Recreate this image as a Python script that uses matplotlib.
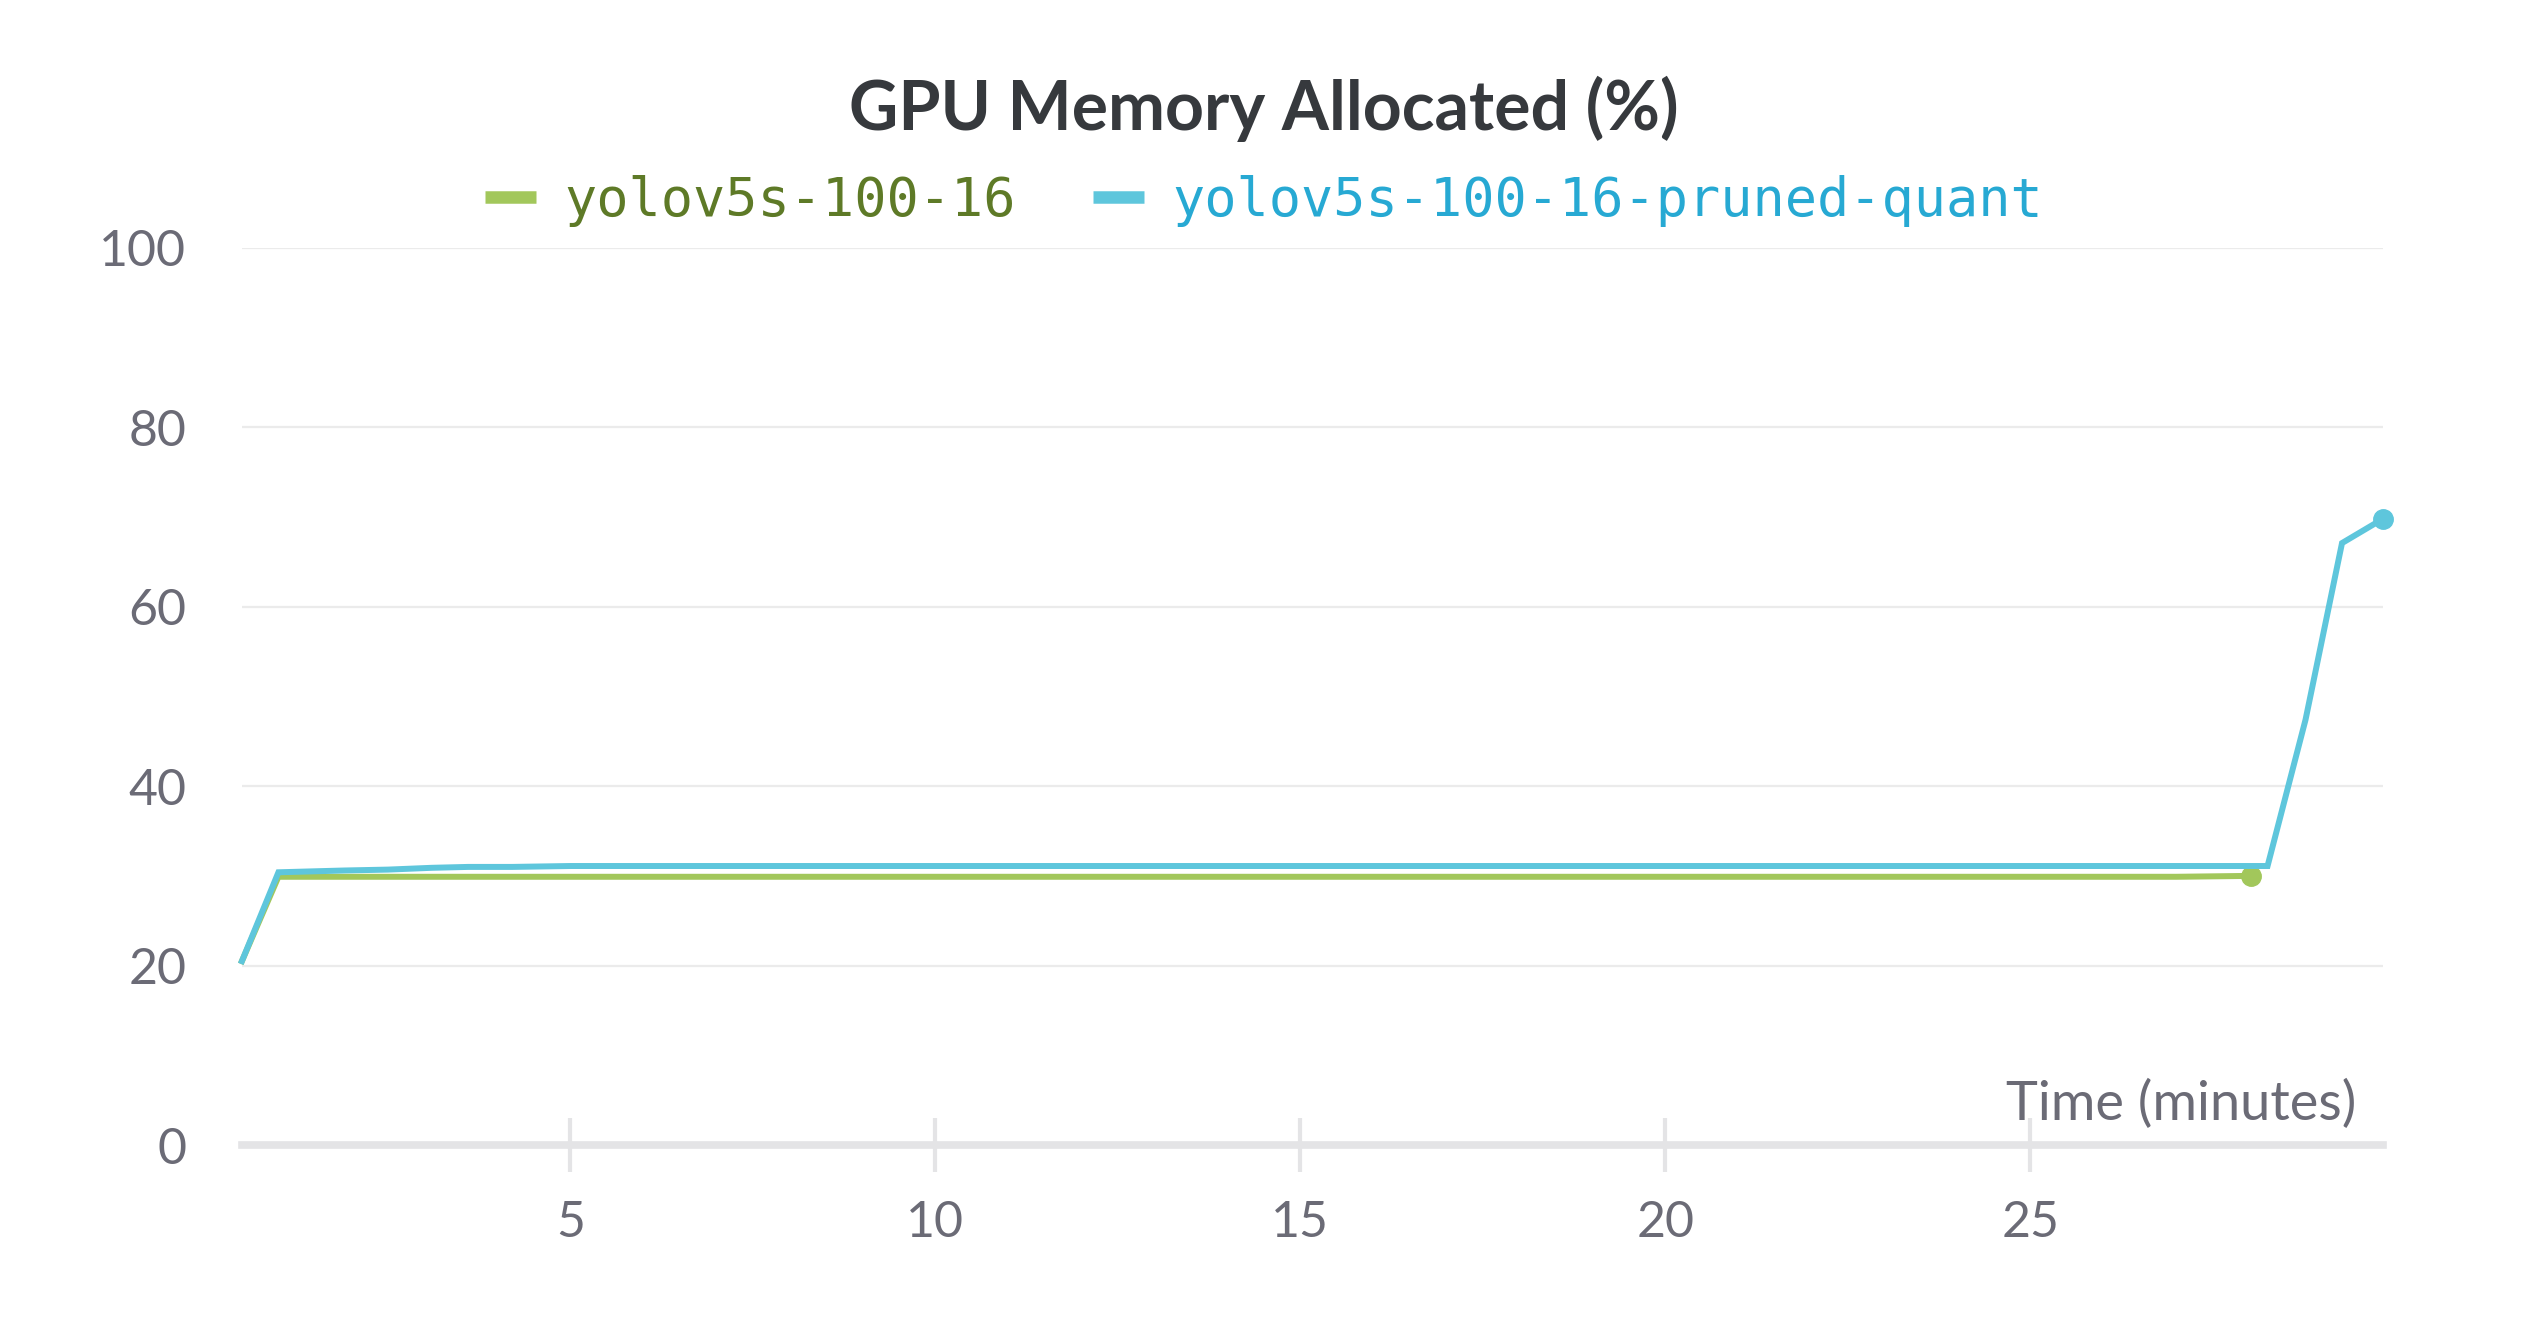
import matplotlib
matplotlib.use("Agg")
import matplotlib.pyplot as plt

# data
t_base = [0.5, 1.0, 27.0, 28.02]
mem_base = [20.5, 29.9, 29.9, 30.0]

t_pq = [0.5, 1.0, 1.9, 2.5, 3.1, 3.6, 4.2, 5.0, 28.25, 28.77, 29.27, 29.83]
mem_pq = [20.5, 30.4, 30.6, 30.7, 30.9, 31.0, 31.0, 31.1, 31.1, 47.4, 67.1, 69.8]

names = ["yolov5s-100-16", "yolov5s-100-16-pruned-quant"]
line_colors = ["#a2c75b", "#5ec6dc"]
text_colors = ["#5e7a27", "#27a9d3"]
x_ticks = [5, 10, 15, 20, 25]
y_ticks = [0, 20, 40, 60, 80, 100]

grey = "#6b6b76"
plt.rcParams['font.family'] = ['Lato', 'DejaVu Sans']

fig = plt.figure(figsize=(25.28, 13.28), dpi=100)
ax = fig.add_axes([0.0957, 0.1378, 0.8469, 0.6755])

# lignes
ax.plot(t_base, mem_base, color=line_colors[0], lw=4.3, solid_joinstyle='miter', clip_on=False, zorder=3)
ax.plot(t_base[-1], mem_base[-1], 'o', color=line_colors[0], ms=14, clip_on=False, zorder=3)
ax.plot(t_pq, mem_pq, color=line_colors[1], lw=4.3, solid_joinstyle='miter', clip_on=False, zorder=4)
ax.plot(t_pq[-1], mem_pq[-1], 'o', color=line_colors[1], ms=14, clip_on=False, zorder=4)

ax.set_xlim(0.5, 29.83)
ax.set_ylim(0, 100)
ax.set_xticks(x_ticks)
ax.set_yticks(y_ticks)

for s in ['top', 'right', 'left']:
    ax.spines[s].set_visible(False)
ax.spines['bottom'].set_color('#e4e4e6')
ax.spines['bottom'].set_linewidth(5.5)
ax.spines['bottom'].set_zorder(1)

for y in y_ticks[1:]:
    ax.axhline(y, color='#ebebeb', lw=1.6, zorder=0)

ax.tick_params(axis='x', direction='inout', length=39, width=3, color='#e4e4e6',
               labelsize=36, labelcolor=grey, pad=20)
ax.tick_params(axis='y', length=0, labelsize=36, labelcolor=grey, pad=40)

ax.annotate("Time (minutes)", xy=(1, 0), xycoords='axes fraction', xytext=(-19, 18),
            textcoords='offset points', ha='right', va='baseline', fontsize=39, color=grey)

fig.text(0.5, 0.918, "GPU Memory Allocated (%)", ha='center', va='center',
         fontsize=49, fontweight='bold', color='#36393d')

# légende
handles = [plt.Line2D([], [], color=c, lw=9, solid_capstyle='butt') for c in line_colors]
leg = fig.legend(handles, names, loc='center', bbox_to_anchor=(0.5, 0.849), ncol=2,
                 frameon=False, prop={'family': 'DejaVu Sans Mono', 'size': 38.5},
                 handlelength=0.95, handletextpad=0.54, columnspacing=1.44)
for txt, c in zip(leg.get_texts(), text_colors):
    txt.set_color(c)

fig.savefig("out.png", dpi=100)
